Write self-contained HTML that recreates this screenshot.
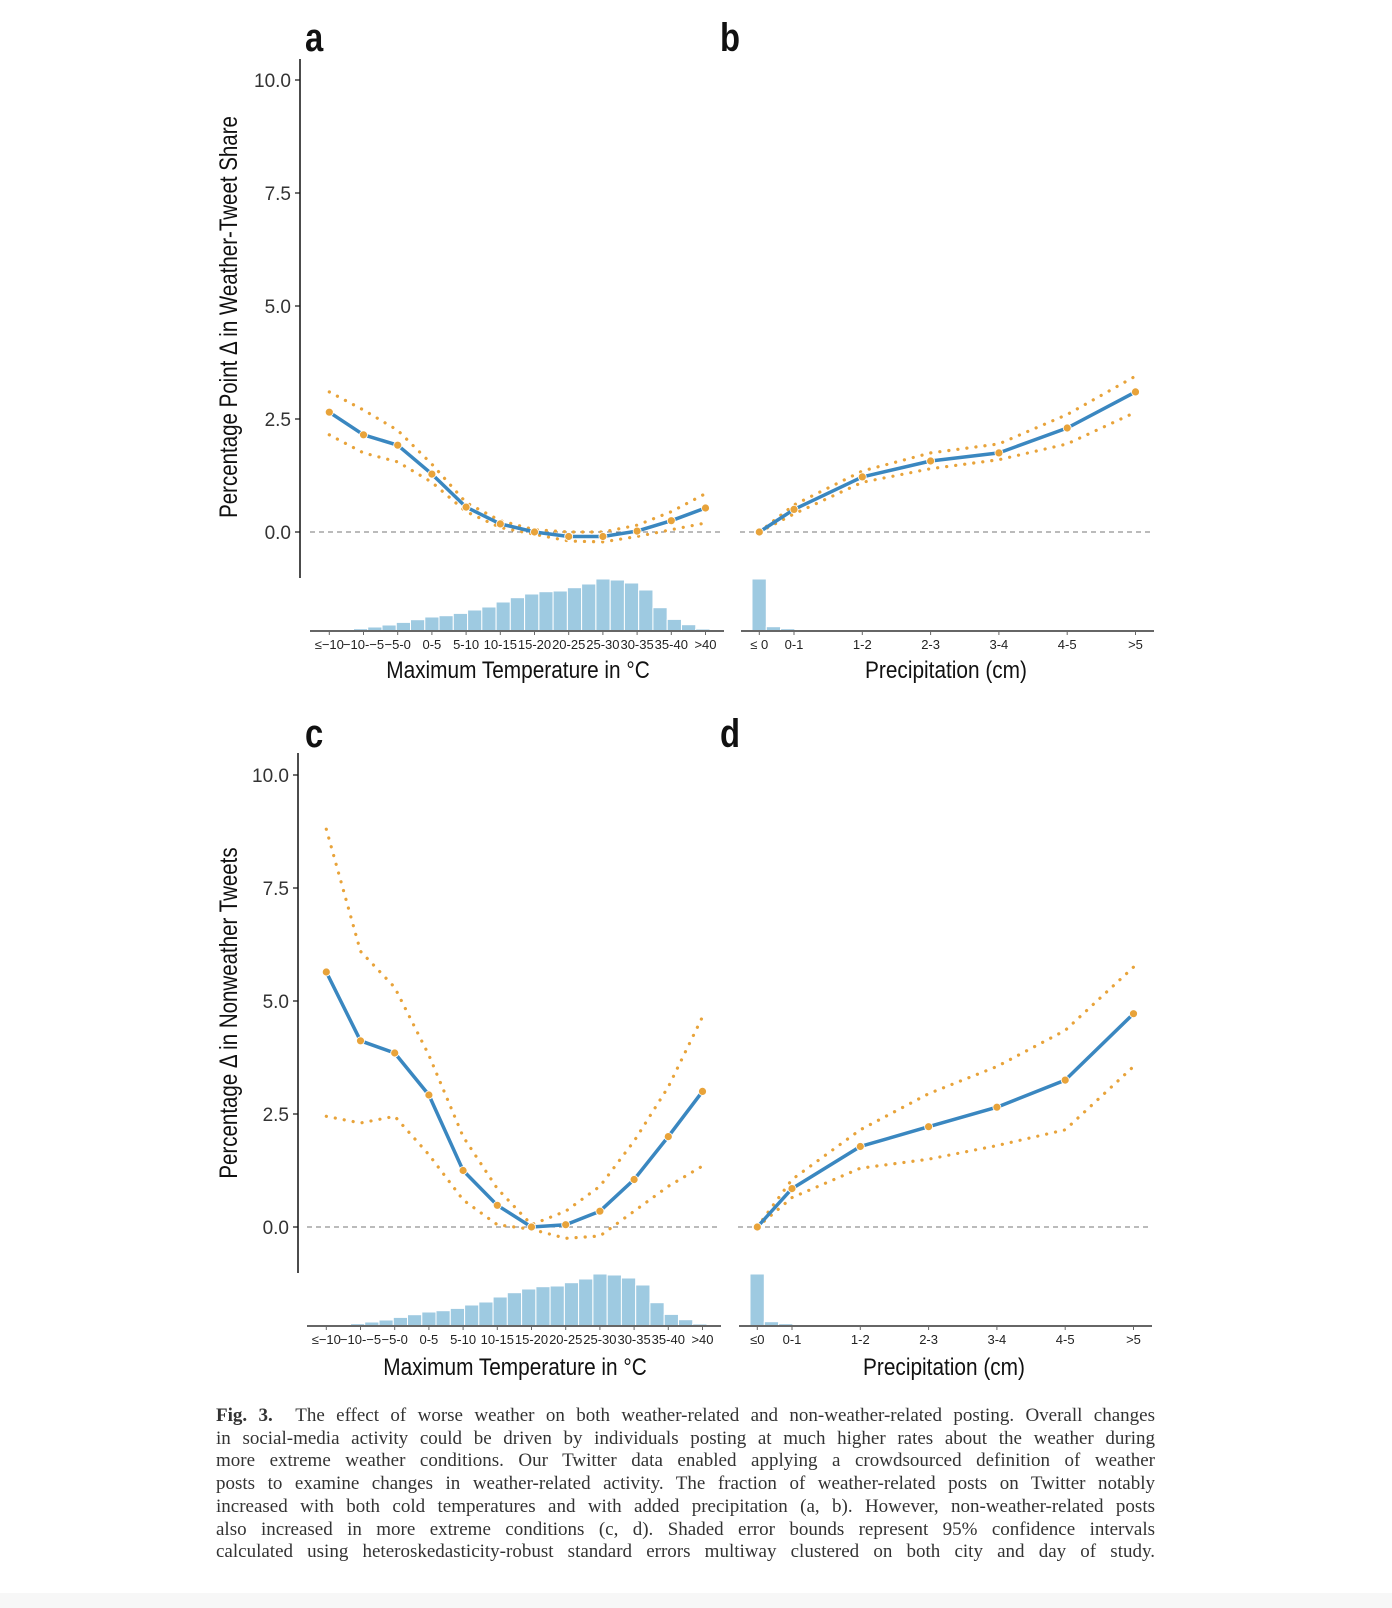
<!DOCTYPE html>
<html><head><meta charset="utf-8"><style>
html,body{margin:0;padding:0;background:#fff;}
body{width:1392px;height:1608px;position:relative;overflow:hidden;}
svg{position:absolute;left:0;top:0;}
.cap{position:absolute;left:216px;top:1405px;width:939px;font-family:"Liberation Serif",serif;font-size:19px;color:#333;line-height:22.7px;}
.cap div{text-align:justify;text-align-last:justify;white-space:nowrap;}
.band{position:absolute;left:0;top:1593px;width:1392px;height:15px;background:#f7f7f7;}
</style></head><body>
<svg width="1392" height="1608" viewBox="0 0 1392 1608" font-family="Liberation Sans, sans-serif">
<defs>
<g id="histT" fill="#9ecae1" stroke="#fff" stroke-width="1">
<rect x="310.7" y="630.4" width="14.26" height="0.3"/>
<rect x="325" y="630.4" width="14.26" height="0.3"/>
<rect x="339.2" y="630" width="14.26" height="0.7"/>
<rect x="353.5" y="628.7" width="14.26" height="2"/>
<rect x="367.7" y="627" width="14.26" height="3.7"/>
<rect x="382" y="625" width="14.26" height="5.7"/>
<rect x="396.3" y="622.4" width="14.26" height="8.3"/>
<rect x="410.5" y="619.7" width="14.26" height="11"/>
<rect x="424.8" y="617" width="14.26" height="13.7"/>
<rect x="439" y="615.7" width="14.26" height="15"/>
<rect x="453.3" y="613.4" width="14.26" height="17.3"/>
<rect x="467.6" y="610" width="14.26" height="20.7"/>
<rect x="481.8" y="607" width="14.26" height="23.7"/>
<rect x="496.1" y="602" width="14.26" height="28.7"/>
<rect x="510.3" y="597.7" width="14.26" height="33"/>
<rect x="524.6" y="594" width="14.26" height="36.7"/>
<rect x="538.9" y="591.7" width="14.26" height="39"/>
<rect x="553.1" y="591" width="14.26" height="39.7"/>
<rect x="567.4" y="587.7" width="14.26" height="43"/>
<rect x="581.6" y="584" width="14.26" height="46.7"/>
<rect x="595.9" y="579" width="14.26" height="51.7"/>
<rect x="610.2" y="580" width="14.26" height="50.7"/>
<rect x="624.4" y="583" width="14.26" height="47.7"/>
<rect x="638.7" y="590" width="14.26" height="40.7"/>
<rect x="652.9" y="607.7" width="14.26" height="23"/>
<rect x="667.2" y="619.4" width="14.26" height="11.3"/>
<rect x="681.5" y="624.7" width="14.26" height="6"/>
<rect x="695.7" y="629" width="14.26" height="1.7"/>
<rect x="710" y="630.4" width="14.26" height="0.3"/>
</g>
<g id="histP" fill="#9ecae1" stroke="#fff" stroke-width="1">
<rect x="752" y="579" width="14.3" height="51.7"/>
<rect x="766.3" y="626.7" width="14.3" height="4"/>
<rect x="780.6" y="628.7" width="14.3" height="2"/>
<rect x="794.9" y="629.7" width="14.3" height="1"/>
<rect x="809.2" y="630" width="14.3" height="0.7"/>
<rect x="852" y="630.1" width="14.3" height="0.6"/>
</g>
</defs>

<g font-weight="bold" font-size="40" fill="#111">
<text transform="translate(305 51) scale(0.82 1)">a</text>
<text transform="translate(720 51) scale(0.82 1)">b</text>
<text transform="translate(305 747) scale(0.82 1)">c</text>
<text transform="translate(720 747) scale(0.82 1)">d</text>
</g>

<line x1="300" y1="59" x2="300" y2="578" stroke="#111" stroke-width="1.5"/>
<g stroke="#111" stroke-width="1.2">
<line x1="295" y1="80" x2="300" y2="80"/><line x1="295" y1="193" x2="300" y2="193"/><line x1="295" y1="306" x2="300" y2="306"/><line x1="295" y1="419" x2="300" y2="419"/><line x1="295" y1="532" x2="300" y2="532"/>
</g>
<g font-size="19" fill="#333" text-anchor="end">
<text x="291" y="87">10.0</text><text x="291" y="200">7.5</text><text x="291" y="313">5.0</text><text x="291" y="426">2.5</text><text x="291" y="539">0.0</text>
</g>
<text transform="translate(237 317) rotate(-90) scale(0.82 1)" text-anchor="middle" font-size="25" fill="#111">Percentage Point Δ in Weather-Tweet Share</text>
<line x1="310" y1="532" x2="724" y2="532" stroke="#777" stroke-width="1" stroke-dasharray="5 4"/>
<line x1="740" y1="532" x2="1154" y2="532" stroke="#777" stroke-width="1" stroke-dasharray="5 4"/>

<use href="#histT"/>
<use href="#histP"/>
<line x1="310" y1="631" x2="724" y2="631" stroke="#666" stroke-width="2"/>
<line x1="741" y1="631" x2="1154" y2="631" stroke="#666" stroke-width="2"/>
<g stroke="#666" stroke-width="1">
<path d="M329.3 631v4M363.5 631v4M397.7 631v4M431.9 631v4M466.1 631v4M500.3 631v4M534.5 631v4M568.7 631v4M602.9 631v4M637.1 631v4M671.3 631v4M705.5 631v4"/>
<path d="M759.3 631v4M794 631v4M862.3 631v4M930.6 631v4M998.9 631v4M1067.2 631v4M1135.5 631v4"/>
</g>
<g font-size="13" fill="#222" text-anchor="middle">
<text x="329.3" y="649">≤−10</text><text x="363.5" y="649">−10-−5</text><text x="397.7" y="649">−5-0</text><text x="431.9" y="649">0-5</text><text x="466.1" y="649">5-10</text><text x="500.3" y="649">10-15</text><text x="534.5" y="649">15-20</text><text x="568.7" y="649">20-25</text><text x="602.9" y="649">25-30</text><text x="637.1" y="649">30-35</text><text x="671.3" y="649">35-40</text><text x="705.5" y="649">&gt;40</text>
<text x="759.3" y="649">≤ 0</text><text x="794" y="649">0-1</text><text x="862.3" y="649">1-2</text><text x="930.6" y="649">2-3</text><text x="998.9" y="649">3-4</text><text x="1067.2" y="649">4-5</text><text x="1135.5" y="649">&gt;5</text>
</g>
<text transform="translate(518 678) scale(0.85 1)" text-anchor="middle" font-size="24.5" fill="#111">Maximum Temperature in °C</text>
<text transform="translate(946 678) scale(0.85 1)" text-anchor="middle" font-size="24.5" fill="#111">Precipitation (cm)</text>

<g fill="none" stroke="#e8a33a" stroke-width="3.2" stroke-linecap="round" stroke-dasharray="0.1 9">
<polyline points="329.3,391.9 363.5,410 397.7,430.3 431.9,464.2 466.1,502.6 500.3,520.7 534.5,529.7 568.7,532 602.9,532 637.1,525.2 671.3,511.7 705.5,493.6"/>
<polyline points="329.3,434.8 363.5,452.9 397.7,461.9 431.9,482.3 466.1,511.7 500.3,527.5 534.5,534.3 568.7,541 602.9,541.9 637.1,536.5 671.3,529.7 705.5,523"/>
<polyline points="759.3,532 794,504.9 862.3,471 930.6,452.9 998.9,443.9 1067.2,414.5 1135.5,376.1"/>
<polyline points="759.3,532 794,513.9 862.3,482.3 930.6,468.7 998.9,459.7 1067.2,443.9 1135.5,412.2"/>
</g>
<g fill="none" stroke="#3a87c0" stroke-width="3.5" stroke-linejoin="round">
<polyline points="329.3,412.2 363.5,434.8 397.7,445.2 431.9,474.1 466.1,507.1 500.3,523.9 534.5,532 568.7,536.5 602.9,536.5 637.1,531.1 671.3,520.7 705.5,508"/>
<polyline points="759.3,532 794,509.4 862.3,476.9 930.6,461 998.9,452.9 1067.2,428 1135.5,391.9"/>
</g>
<g fill="#e8a33a" stroke="#fff" stroke-width="0.8">
<circle cx="329.3" cy="412.2" r="4"/><circle cx="363.5" cy="434.8" r="4"/><circle cx="397.7" cy="445.2" r="4"/><circle cx="431.9" cy="474.1" r="4"/><circle cx="466.1" cy="507.1" r="4"/><circle cx="500.3" cy="523.9" r="4"/><circle cx="534.5" cy="532" r="4"/><circle cx="568.7" cy="536.5" r="4"/><circle cx="602.9" cy="536.5" r="4"/><circle cx="637.1" cy="531.1" r="4"/><circle cx="671.3" cy="520.7" r="4"/><circle cx="705.5" cy="508" r="4"/>
<circle cx="759.3" cy="532" r="4"/><circle cx="794" cy="509.4" r="4"/><circle cx="862.3" cy="476.9" r="4"/><circle cx="930.6" cy="461" r="4"/><circle cx="998.9" cy="452.9" r="4"/><circle cx="1067.2" cy="428" r="4"/><circle cx="1135.5" cy="391.9" r="4"/>
</g>

<line x1="298" y1="753" x2="298" y2="1273" stroke="#111" stroke-width="1.5"/>
<g stroke="#111" stroke-width="1.2">
<line x1="293" y1="775" x2="298" y2="775"/><line x1="293" y1="888" x2="298" y2="888"/><line x1="293" y1="1001" x2="298" y2="1001"/><line x1="293" y1="1114" x2="298" y2="1114"/><line x1="293" y1="1227" x2="298" y2="1227"/>
</g>
<g font-size="19" fill="#333" text-anchor="end">
<text x="289" y="782">10.0</text><text x="289" y="895">7.5</text><text x="289" y="1008">5.0</text><text x="289" y="1121">2.5</text><text x="289" y="1234">0.0</text>
</g>
<text transform="translate(237 1013) rotate(-90) scale(0.82 1)" text-anchor="middle" font-size="25" fill="#111">Percentage Δ in Nonweather Tweets</text>
<line x1="307" y1="1227" x2="721" y2="1227" stroke="#777" stroke-width="1" stroke-dasharray="5 4"/>
<line x1="738" y1="1227" x2="1152" y2="1227" stroke="#777" stroke-width="1" stroke-dasharray="5 4"/>

<use href="#histT" transform="translate(-3 695)"/>
<use href="#histP" transform="translate(-2 695)"/>
<line x1="307" y1="1326" x2="721" y2="1326" stroke="#666" stroke-width="2"/>
<line x1="739" y1="1326" x2="1152" y2="1326" stroke="#666" stroke-width="2"/>
<g stroke="#666" stroke-width="1">
<path d="M326.3 1326v4M360.5 1326v4M394.7 1326v4M428.9 1326v4M463.1 1326v4M497.3 1326v4M531.5 1326v4M565.7 1326v4M599.9 1326v4M634.1 1326v4M668.3 1326v4M702.5 1326v4"/>
<path d="M757.3 1326v4M792 1326v4M860.3 1326v4M928.6 1326v4M996.9 1326v4M1065.2 1326v4M1133.5 1326v4"/>
</g>
<g font-size="13" fill="#222" text-anchor="middle">
<text x="326.3" y="1344">≤−10</text><text x="360.5" y="1344">−10-−5</text><text x="394.7" y="1344">−5-0</text><text x="428.9" y="1344">0-5</text><text x="463.1" y="1344">5-10</text><text x="497.3" y="1344">10-15</text><text x="531.5" y="1344">15-20</text><text x="565.7" y="1344">20-25</text><text x="599.9" y="1344">25-30</text><text x="634.1" y="1344">30-35</text><text x="668.3" y="1344">35-40</text><text x="702.5" y="1344">&gt;40</text>
<text x="757.3" y="1344">≤0</text><text x="792" y="1344">0-1</text><text x="860.3" y="1344">1-2</text><text x="928.6" y="1344">2-3</text><text x="996.9" y="1344">3-4</text><text x="1065.2" y="1344">4-5</text><text x="1133.5" y="1344">&gt;5</text>
</g>
<text transform="translate(515 1375) scale(0.85 1)" text-anchor="middle" font-size="24.5" fill="#111">Maximum Temperature in °C</text>
<text transform="translate(944 1375) scale(0.85 1)" text-anchor="middle" font-size="24.5" fill="#111">Precipitation (cm)</text>

<g fill="none" stroke="#e8a33a" stroke-width="3.2" stroke-linecap="round" stroke-dasharray="0.1 9">
<polyline points="326.3,829.2 360.5,951.3 394.7,987.4 428.9,1055.2 463.1,1136.6 497.3,1188.6 531.5,1224.7 565.7,1211.2 599.9,1186.3 634.1,1141.1 668.3,1086.9 702.5,1016.8"/>
<polyline points="326.3,1116.3 360.5,1123 394.7,1116.3 428.9,1154.7 463.1,1199.9 497.3,1224.7 531.5,1229.3 565.7,1238.3 599.9,1236 634.1,1211.2 668.3,1186.3 702.5,1166"/>
<polyline points="757.3,1227 792,1179.5 860.3,1129.8 928.6,1093.7 996.9,1066.5 1065.2,1030.4 1133.5,967.1"/>
<polyline points="757.3,1227 792,1197.6 860.3,1168.2 928.6,1159.2 996.9,1145.6 1065.2,1129.8 1133.5,1066.5"/>
</g>
<g fill="none" stroke="#3a87c0" stroke-width="3.5" stroke-linejoin="round">
<polyline points="326.3,972 360.5,1040.8 394.7,1053 428.9,1095 463.1,1170.5 497.3,1205.3 531.5,1227 565.7,1224.7 599.9,1211.2 634.1,1179.5 668.3,1136.6 702.5,1091.4"/>
<polyline points="757.3,1227 792,1188.6 860.3,1146.5 928.6,1126.7 996.9,1107.2 1065.2,1080.1 1133.5,1013.7"/>
</g>
<g fill="#e8a33a" stroke="#fff" stroke-width="0.8">
<circle cx="326.3" cy="972" r="4"/><circle cx="360.5" cy="1040.8" r="4"/><circle cx="394.7" cy="1053" r="4"/><circle cx="428.9" cy="1095" r="4"/><circle cx="463.1" cy="1170.5" r="4"/><circle cx="497.3" cy="1205.3" r="4"/><circle cx="531.5" cy="1227" r="4"/><circle cx="565.7" cy="1224.7" r="4"/><circle cx="599.9" cy="1211.2" r="4"/><circle cx="634.1" cy="1179.5" r="4"/><circle cx="668.3" cy="1136.6" r="4"/><circle cx="702.5" cy="1091.4" r="4"/>
<circle cx="757.3" cy="1227" r="4"/><circle cx="792" cy="1188.6" r="4"/><circle cx="860.3" cy="1146.5" r="4"/><circle cx="928.6" cy="1126.7" r="4"/><circle cx="996.9" cy="1107.2" r="4"/><circle cx="1065.2" cy="1080.1" r="4"/><circle cx="1133.5" cy="1013.7" r="4"/>
</g>
</svg>

<div class="cap">
<div><b>Fig. 3.</b>&nbsp; The effect of worse weather on both weather-related and non-weather-related posting. Overall changes</div>
<div>in social-media activity could be driven by individuals posting at much higher rates about the weather during</div>
<div>more extreme weather conditions. Our Twitter data enabled applying a crowdsourced definition of weather</div>
<div>posts to examine changes in weather-related activity. The fraction of weather-related posts on Twitter notably</div>
<div>increased with both cold temperatures and with added precipitation (a, b). However, non-weather-related posts</div>
<div>also increased in more extreme conditions (c, d). Shaded error bounds represent 95% confidence intervals</div>
<div>calculated using heteroskedasticity-robust standard errors multiway clustered on both city and day of study.</div>
</div>
<div class="band"></div>
</body></html>
